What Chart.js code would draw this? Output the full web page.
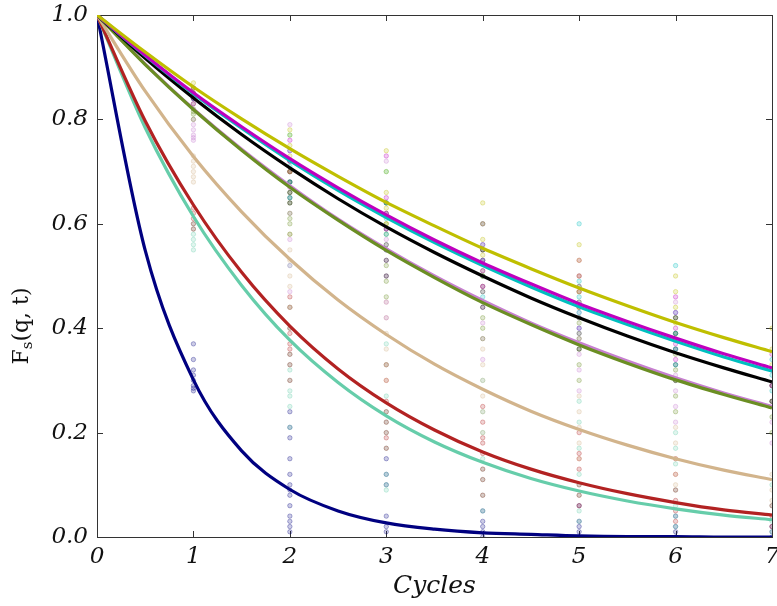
<!DOCTYPE html>
<html>
<head>
<meta charset="utf-8">
<script src="https://cdn.jsdelivr.net/npm/chart.js@4.4.1/dist/chart.umd.min.js"></script>
<style>
  body { margin: 0; background: #fff; }
  #chart { display: block; }
</style>
</head>
<body>
<canvas id="chart" width="777" height="606"></canvas>
<script>
const xs = [0, 0.5, 1, 1.5, 2, 2.5, 3, 3.5, 4, 4.5, 5, 5.5, 6, 6.5, 7];
const xTicks = [0, 1, 2, 3, 4, 5, 6, 7];
const yTicks = [0, 0.2, 0.4, 0.6, 0.8, 1.0];

// fitted curves, every half cycle
const fitNavy = [1, 0.549, 0.301, 0.165, 0.091, 0.050, 0.027, 0.015, 0.008, 0.005, 0.002, 0.001, 0.001, 0.000, 0.000];
const fitTurquoise = [1, 0.784, 0.614, 0.482, 0.377, 0.296, 0.232, 0.182, 0.143, 0.112, 0.088, 0.069, 0.054, 0.042, 0.033];
const fitRed = [1, 0.797, 0.636, 0.507, 0.404, 0.322, 0.257, 0.205, 0.163, 0.130, 0.104, 0.083, 0.066, 0.052, 0.042];
const fitTan = [1, 0.854, 0.729, 0.623, 0.532, 0.454, 0.388, 0.331, 0.283, 0.241, 0.206, 0.176, 0.150, 0.128, 0.110];
const fitOrchid = [1, 0.906, 0.820, 0.743, 0.673, 0.609, 0.552, 0.500, 0.453, 0.410, 0.372, 0.337, 0.305, 0.276, 0.250];
const fitOlive = [1, 0.905, 0.819, 0.741, 0.670, 0.607, 0.549, 0.497, 0.449, 0.407, 0.368, 0.333, 0.301, 0.273, 0.247];
const fitBlack = [1, 0.917, 0.841, 0.771, 0.707, 0.648, 0.594, 0.545, 0.500, 0.458, 0.420, 0.385, 0.353, 0.324, 0.297];
const fitCyan = [1, 0.922, 0.849, 0.783, 0.721, 0.664, 0.612, 0.564, 0.520, 0.479, 0.441, 0.407, 0.375, 0.345, 0.318];
const fitMagenta = [1, 0.923, 0.851, 0.786, 0.725, 0.669, 0.617, 0.569, 0.525, 0.485, 0.447, 0.413, 0.381, 0.351, 0.324];
const fitGold = [1, 0.929, 0.862, 0.801, 0.744, 0.691, 0.641, 0.596, 0.553, 0.514, 0.477, 0.443, 0.411, 0.382, 0.355];

// measured points, one list per cycle 1..7
const dotsNavy = [
  [0.28, 0.285, 0.29, 0.30, 0.31, 0.32, 0.34, 0.37],
  [0.01, 0.02, 0.03, 0.04, 0.06, 0.08, 0.09, 0.10, 0.12, 0.15, 0.19, 0.21, 0.24],
  [0.01, 0.02, 0.04, 0.10, 0.12, 0.15],
  [0.00, 0.01, 0.02, 0.03, 0.05],
  [0.00, 0.01, 0.02, 0.03, 0.06],
  [0.00, 0.01, 0.02, 0.04],
  [0.00, 0.01, 0.02],
];
const dotsTurquoise = [
  [0.55, 0.56, 0.57, 0.58, 0.59, 0.60],
  [0.21, 0.25, 0.27, 0.28, 0.30, 0.32, 0.33, 0.35, 0.40, 0.44, 0.52],
  [0.09, 0.10, 0.12, 0.17, 0.20, 0.22, 0.24, 0.27, 0.33, 0.37],
  [0.05, 0.08, 0.11, 0.13, 0.15, 0.20, 0.24, 0.30],
  [0.03, 0.05, 0.08, 0.10, 0.12, 0.17, 0.22, 0.26],
  [0.02, 0.04, 0.06, 0.09, 0.14, 0.17, 0.20],
  [0.01, 0.03, 0.06, 0.10],
];
const dotsRed = [
  [0.59, 0.60, 0.61, 0.62, 0.63],
  [0.30, 0.33, 0.35, 0.36, 0.37, 0.39, 0.40, 0.44, 0.46],
  [0.17, 0.19, 0.20, 0.22, 0.24, 0.26, 0.30, 0.33],
  [0.08, 0.11, 0.13, 0.16, 0.18, 0.19, 0.22, 0.25],
  [0.06, 0.08, 0.10, 0.13, 0.15, 0.16, 0.20],
  [0.03, 0.05, 0.07, 0.09, 0.12, 0.15],
  [0.02, 0.04, 0.06],
];
const dotsTan = [
  [0.68, 0.69, 0.70, 0.71, 0.72, 0.73],
  [0.44, 0.48, 0.50, 0.53, 0.55, 0.58],
  [0.30, 0.33, 0.36, 0.39, 0.42, 0.45],
  [0.20, 0.24, 0.27, 0.30, 0.33, 0.36],
  [0.15, 0.18, 0.21, 0.24, 0.27],
  [0.10, 0.12, 0.15, 0.18, 0.21],
  [0.07, 0.09, 0.12],
];
const dotsOrchid = [
  [0.76, 0.765, 0.77, 0.78, 0.79, 0.80],
  [0.47, 0.52, 0.57, 0.62, 0.68, 0.79],
  [0.42, 0.45, 0.50, 0.53, 0.57, 0.72],
  [0.34, 0.38, 0.41, 0.44, 0.48, 0.55],
  [0.28, 0.32, 0.35, 0.38, 0.43, 0.50],
  [0.22, 0.25, 0.28, 0.31, 0.36, 0.45],
  [0.18, 0.22, 0.26],
];
const dotsOlive = [
  [0.80, 0.81, 0.815, 0.82, 0.83],
  [0.58, 0.60, 0.61, 0.62, 0.64, 0.66, 0.68, 0.70],
  [0.46, 0.49, 0.52, 0.55, 0.58, 0.60, 0.64],
  [0.38, 0.40, 0.42, 0.45, 0.48, 0.51, 0.55],
  [0.30, 0.33, 0.36, 0.38, 0.41, 0.44, 0.47],
  [0.24, 0.27, 0.30, 0.32, 0.35, 0.39, 0.42],
  [0.20, 0.23, 0.26, 0.29],
];
const dotsBlack = [
  [0.84, 0.85, 0.86],
  [0.64, 0.65, 0.66, 0.68, 0.70, 0.72],
  [0.50, 0.53, 0.56, 0.59, 0.62, 0.64],
  [0.44, 0.47, 0.50, 0.53, 0.55],
  [0.36, 0.39, 0.42, 0.45, 0.48],
  [0.30, 0.33, 0.36, 0.39, 0.42],
  [0.26, 0.29, 0.32],
];
const dotsCyan = [
  [0.84, 0.85],
  [0.65, 0.68, 0.71, 0.74, 0.77],
  [0.55, 0.58, 0.61, 0.64, 0.70],
  [0.46, 0.50, 0.53, 0.56, 0.60],
  [0.40, 0.43, 0.46, 0.49, 0.60],
  [0.33, 0.36, 0.39, 0.43, 0.52],
  [0.28, 0.31, 0.34],
];
const dotsMagenta = [
  [0.83, 0.84, 0.85, 0.86],
  [0.67, 0.70, 0.72, 0.74, 0.76],
  [0.55, 0.59, 0.62, 0.65, 0.73],
  [0.48, 0.51, 0.53, 0.56, 0.60],
  [0.40, 0.44, 0.47, 0.50, 0.53],
  [0.34, 0.37, 0.40, 0.43, 0.46],
  [0.29, 0.32, 0.35],
];
const dotsGold = [
  [0.85, 0.86, 0.87],
  [0.70, 0.73, 0.75, 0.77, 0.78],
  [0.60, 0.63, 0.66, 0.70, 0.74],
  [0.50, 0.54, 0.57, 0.60, 0.64],
  [0.44, 0.47, 0.50, 0.53, 0.56],
  [0.38, 0.41, 0.44, 0.47, 0.50],
  [0.33, 0.36, 0.40],
];

const series = [
  { color: "#000080", fit: fitNavy, dots: dotsNavy },
  { color: "#66cdaa", fit: fitTurquoise, dots: dotsTurquoise },
  { color: "#b22222", fit: fitRed, dots: dotsRed },
  { color: "#d2b48c", fit: fitTan, dots: dotsTan },
  { color: "#c77fd0", fit: fitOrchid, dots: dotsOrchid },
  { color: "#6b8e23", fit: fitOlive, dots: dotsOlive },
  { color: "#000000", fit: fitBlack, dots: dotsBlack },
  { color: "#00bfbf", fit: fitCyan, dots: dotsCyan },
  { color: "#bf00bf", fit: fitMagenta, dots: dotsMagenta },
  { color: "#bfbf00", fit: fitGold, dots: dotsGold },
];

function alpha(hex, a) {
  const n = parseInt(hex.slice(1), 16);
  return `rgba(${(n >> 16) & 255}, ${(n >> 8) & 255}, ${n & 255}, ${a})`;
}

const datasets = [];
series.forEach((s, i) => {
  const pts = [];
  s.dots.forEach((ys, c) => ys.forEach((y) => pts.push({ x: c + 1, y })));
  datasets.push({
    type: "scatter",
    data: pts,
    pointRadius: 2.2,
    pointBackgroundColor: alpha(s.color, 0.2),
    pointBorderColor: alpha(s.color, 0.32),
    pointBorderWidth: 1,
    order: 100 - i,
  });
});
series.forEach((s, i) => {
  datasets.push({
    type: "line",
    data: xs.map((x, j) => ({ x, y: s.fit[j] })),
    borderColor: s.color,
    borderWidth: 3.2,
    pointRadius: 0,
    fill: false,
    cubicInterpolationMode: "monotone",
    order: 50 - i,
  });
});

const serif = "'DejaVu Serif', serif";

const frame = {
  id: "frame",
  beforeDatasetsDraw(chart) {
    const { ctx, chartArea: a, scales } = chart;
    ctx.save();
    ctx.strokeStyle = "#333";
    ctx.lineWidth = 1;
    ctx.beginPath();
    xTicks.forEach((v) => {
      const px = Math.round(scales.x.getPixelForValue(v)) + 0.5;
      ctx.moveTo(px, a.bottom);
      ctx.lineTo(px, a.bottom - 6);
      ctx.moveTo(px, a.top);
      ctx.lineTo(px, a.top + 6);
    });
    yTicks.forEach((v) => {
      const py = Math.round(scales.y.getPixelForValue(v)) + 0.5;
      ctx.moveTo(a.left, py);
      ctx.lineTo(a.left + 6, py);
      ctx.moveTo(a.right, py);
      ctx.lineTo(a.right - 6, py);
    });
    ctx.stroke();
    ctx.strokeRect(Math.round(a.left) + 0.5, Math.round(a.top) + 0.5,
      Math.round(a.right - a.left), Math.round(a.bottom - a.top));
    ctx.restore();
  },
  afterDraw(chart) {
    const { ctx, chartArea: a } = chart;
    ctx.save();
    ctx.translate(20, (a.top + a.bottom) / 2 + 50);
    ctx.rotate(-Math.PI / 2);
    ctx.fillStyle = "#111";
    ctx.textBaseline = "alphabetic";
    const big = `22px ${serif}`;
    const small = `15px ${serif}`;
    ctx.font = big;
    const wF = ctx.measureText("F").width;
    const wRest = ctx.measureText("(q, t)").width;
    ctx.font = small;
    const wS = ctx.measureText("s").width;
    let x = -(wF + wS + wRest) / 2;
    ctx.font = big;
    ctx.fillText("F", x, 8);
    x += wF;
    ctx.font = small;
    ctx.fillText("s", x, 12);
    x += wS;
    ctx.font = big;
    ctx.fillText("(q, t)", x, 8);
    ctx.restore();
  },
};

function fixBox(w, h) {
  return (scale) => {
    if (w) scale.width = w;
    if (h) scale.height = h;
    scale.paddingLeft = 0;
    scale.paddingRight = 0;
    scale.paddingTop = 0;
    scale.paddingBottom = 0;
  };
}

new Chart(document.getElementById("chart"), {
  type: "scatter",
  data: { datasets },
  plugins: [frame],
  options: {
    responsive: false,
    animation: false,
    devicePixelRatio: 1,
    layout: { padding: { left: 0, right: 4, top: 15, bottom: 0 } },
    plugins: { legend: { display: false }, tooltip: { enabled: false } },
    scales: {
      x: {
        type: "linear",
        min: 0,
        max: 7,
        afterFit: fixBox(0, 69),
        afterBuildTicks: (scale) => { scale.ticks = xTicks.map((value) => ({ value })); },
        grid: { display: false, drawTicks: false },
        border: { display: false },
        ticks: {
          padding: 6,
          color: "#111",
          font: { family: serif, size: 23, style: "italic" },
          callback: (v) => String(v),
        },
        title: {
          display: true,
          text: "Cycles",
          color: "#111",
          font: { family: serif, size: 25, style: "italic" },
          padding: { top: 0, bottom: 5 },
        },
      },
      y: {
        min: 0,
        max: 1,
        afterFit: fixBox(97, 0),
        afterBuildTicks: (scale) => { scale.ticks = yTicks.map((value) => ({ value })); },
        grid: { display: false, drawTicks: false },
        border: { display: false },
        ticks: {
          padding: 9,
          color: "#111",
          font: { family: serif, size: 23, style: "italic" },
          callback: (v) => v.toFixed(1),
        },
      },
    },
  },
});
</script>
</body>
</html>
